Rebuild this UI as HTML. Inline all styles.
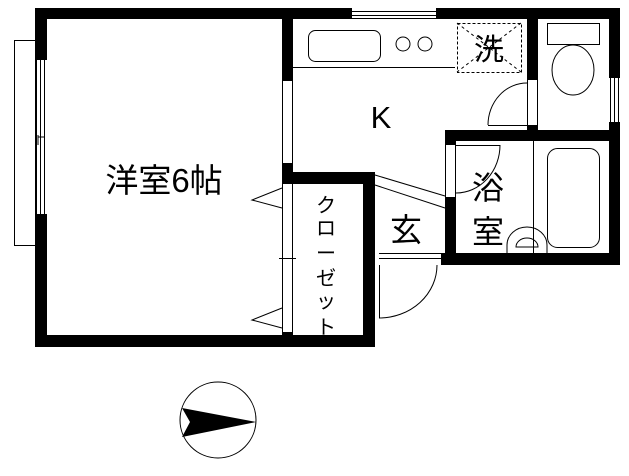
<!DOCTYPE html>
<html><head><meta charset="utf-8"><style>
body{margin:0;background:#fff;}
svg{display:block}
text{font-family:"Liberation Sans","Noto Sans CJK JP",sans-serif;fill:#000}
</style></head><body>
<svg width="629" height="476" viewBox="0 0 629 476" xmlns="http://www.w3.org/2000/svg">
<g fill="#000">
<rect x="35" y="8" width="317" height="11"/>
<rect x="436" y="8" width="184" height="11"/>
<rect x="35" y="8" width="12" height="52"/>
<rect x="35" y="214" width="12" height="133"/>
<rect x="35" y="335" width="340" height="12"/>
<rect x="282" y="8" width="11" height="73"/>
<rect x="282" y="163" width="11" height="21"/>
<rect x="282" y="332" width="11" height="15"/>
<rect x="282" y="172" width="93" height="12"/>
<rect x="363" y="172" width="12" height="175"/>
<rect x="527" y="8" width="11" height="72"/>
<rect x="527" y="125" width="11" height="16"/>
<rect x="609" y="8" width="11" height="70"/>
<rect x="609" y="122" width="11" height="143"/>
<rect x="445" y="130" width="175" height="11"/>
<rect x="445" y="130" width="11" height="15"/>
<rect x="445" y="197" width="11" height="68"/>
<rect x="441" y="253" width="179" height="12"/>
</g>
<g fill="none" stroke="#000" stroke-width="1">
<rect x="14.5" y="40.5" width="21" height="205"/>
<line x1="36.5" y1="60" x2="36.5" y2="214"/><line x1="40.5" y1="60" x2="40.5" y2="214"/><line x1="44.5" y1="60" x2="44.5" y2="214"/>
<line x1="38" y1="135" x2="38" y2="145"/><line x1="38" y1="137" x2="45" y2="137"/>
<line x1="352" y1="11.5" x2="436" y2="11.5"/><line x1="352" y1="15.5" x2="436" y2="15.5"/><line x1="352" y1="18.5" x2="436" y2="18.5"/>
<line x1="610.5" y1="78" x2="610.5" y2="122"/><line x1="614.5" y1="78" x2="614.5" y2="122"/><line x1="618.5" y1="78" x2="618.5" y2="122"/>
<line x1="282.5" y1="81" x2="282.5" y2="163"/><line x1="292.5" y1="81" x2="292.5" y2="163"/>
<line x1="282.5" y1="184" x2="282.5" y2="332"/><line x1="292.5" y1="184" x2="292.5" y2="332"/>
<line x1="279" y1="258.5" x2="296" y2="258.5"/>
<polyline points="282,188 252,200 282,208"/>
<polyline points="282,308 252,320 282,328"/>
<line x1="293" y1="67.5" x2="455" y2="67.5"/>
<rect x="308.5" y="30.5" width="72" height="31" rx="7"/>
<circle cx="403" cy="44" r="7"/><circle cx="425" cy="44" r="7"/>
<rect x="457.5" y="23.5" width="64" height="49" stroke-dasharray="3,2"/>
<line x1="457" y1="23" x2="521" y2="72" stroke-dasharray="3,3"/><line x1="521" y1="23" x2="457" y2="72" stroke-dasharray="3,3"/>
<line x1="527.5" y1="80" x2="527.5" y2="125"/><line x1="537.5" y1="80" x2="537.5" y2="125"/>
<rect x="547.5" y="23.5" width="52" height="21"/>
<ellipse cx="573" cy="70" rx="21" ry="25"/>
<line x1="488" y1="125.5" x2="527" y2="125.5"/>
<path d="M488,125 A39,42 0 0 1 527,83"/>
<line x1="445.5" y1="145" x2="445.5" y2="197"/><line x1="455.5" y1="145" x2="455.5" y2="197"/>
<line x1="456" y1="145.5" x2="500" y2="145.5"/>
<path d="M500,145 A44,48 0 0 1 456,193"/>
<line x1="533.5" y1="141" x2="533.5" y2="253"/>
<rect x="547.5" y="148.5" width="52" height="99" rx="10"/>
<path d="M507,253 L507,245 A20,18 0 0 1 547,245 L547,253"/>
<path d="M516,247 A11,9 0 0 1 538,247 Z"/>
<line x1="375" y1="175" x2="445" y2="196"/><line x1="375" y1="185" x2="445" y2="208"/>
<line x1="379" y1="253.5" x2="441" y2="253.5"/><line x1="379" y1="258.5" x2="441" y2="258.5"/>
<line x1="379.5" y1="265" x2="379.5" y2="318"/>
<path d="M379,318 A58,53 0 0 0 437,265"/>
<circle cx="218" cy="420" r="38"/>
</g>
<polygon points="182,408 256,422 182,437 190,422" fill="#000"/>
<text x="164" y="192" font-size="33" text-anchor="middle">洋室6帖</text>
<text x="381" y="128" font-size="31" text-anchor="middle">K</text>
<text x="489" y="60" font-size="30" text-anchor="middle">洗</text>
<text x="488" y="199" font-size="32" text-anchor="middle">浴</text>
<text x="488" y="243" font-size="32" text-anchor="middle">室</text>
<text x="406" y="241" font-size="32" text-anchor="middle">玄</text>
<g font-size="20" text-anchor="middle">
<text x="326" y="212">ク</text><text x="326" y="235">ロ</text><text x="326" y="260">ー</text><text x="326" y="285">ゼ</text><text x="326" y="308">ッ</text><text x="326" y="334">ト</text>
</g>
</svg>
</body></html>
